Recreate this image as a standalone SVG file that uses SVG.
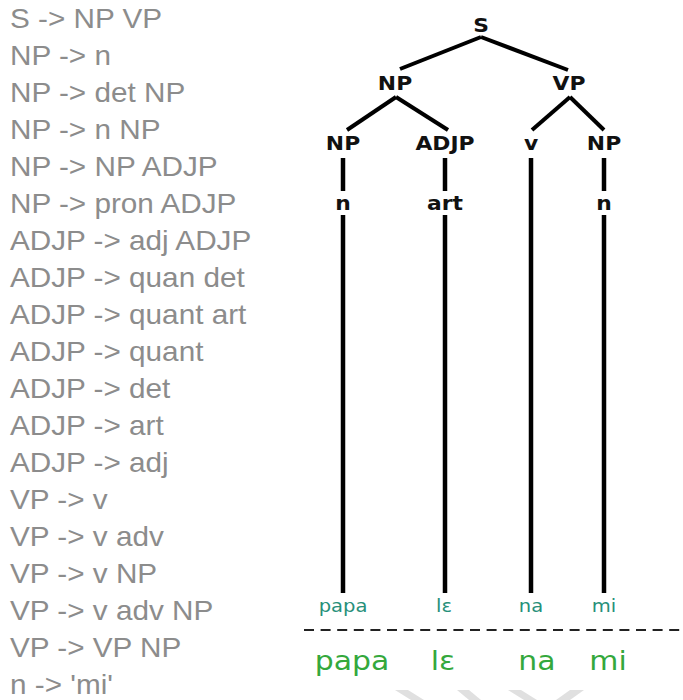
<svg xmlns="http://www.w3.org/2000/svg" width="683" height="700" viewBox="0 0 683 700">
  <style>
    .rule { font-family: "Liberation Sans", Arial, sans-serif; font-size: 27px; fill: #8c8c8c; }
    .lbl { font-family: "DejaVu Sans", Verdana, sans-serif; font-weight: bold; font-size: 19px; fill: #111; text-anchor: middle; }
    .leaf { font-family: "DejaVu Sans", Verdana, sans-serif; font-size: 17px; fill: #27907a; text-anchor: middle; }
    .word { font-family: "DejaVu Sans", Verdana, sans-serif; font-size: 26px; fill: #34a83c; text-anchor: middle; }
    .edge { stroke: #000; stroke-width: 4; fill: none; stroke-linecap: butt; }
    .stem { stroke: #000; stroke-width: 4.5; fill: none; }
    .mark { fill: #e0e0e0; }
  </style>
  <rect width="683" height="700" fill="#fff"/>

  <!-- grammar rules -->
  <g id="rules" transform="translate(10,0) scale(1.1,1)">
    <text class="rule" x="0" y="28.5">S -&gt; NP VP</text>
    <text class="rule" x="0" y="65.5">NP -&gt; n</text>
    <text class="rule" x="0" y="102.5">NP -&gt; det NP</text>
    <text class="rule" x="0" y="139.5">NP -&gt; n NP</text>
    <text class="rule" x="0" y="176.5">NP -&gt; NP ADJP</text>
    <text class="rule" x="0" y="213.5">NP -&gt; pron ADJP</text>
    <text class="rule" x="0" y="250.5">ADJP -&gt; adj ADJP</text>
    <text class="rule" x="0" y="287.5">ADJP -&gt; quan det</text>
    <text class="rule" x="0" y="324.5">ADJP -&gt; quant art</text>
    <text class="rule" x="0" y="361.5">ADJP -&gt; quant</text>
    <text class="rule" x="0" y="398.5">ADJP -&gt; det</text>
    <text class="rule" x="0" y="435.5">ADJP -&gt; art</text>
    <text class="rule" x="0" y="472.5">ADJP -&gt; adj</text>
    <text class="rule" x="0" y="509.5">VP -&gt; v</text>
    <text class="rule" x="0" y="546.5">VP -&gt; v adv</text>
    <text class="rule" x="0" y="583.5">VP -&gt; v NP</text>
    <text class="rule" x="0" y="620.5">VP -&gt; v adv NP</text>
    <text class="rule" x="0" y="657.5">VP -&gt; VP NP</text>
    <text class="rule" x="0" y="694.5">n -&gt; 'mi'</text>
  </g>

  <!-- tree edges -->
  <g id="connectors">
    <line class="edge" x1="481" y1="37" x2="400" y2="69"/>
    <line class="edge" x1="481" y1="37" x2="568" y2="70"/>
    <line class="edge" x1="396" y1="97" x2="347" y2="130"/>
    <line class="edge" x1="396" y1="97" x2="448" y2="130"/>
    <line class="edge" x1="570" y1="97" x2="532" y2="130"/>
    <line class="edge" x1="570" y1="97" x2="604" y2="130"/>
    <line class="stem" x1="343" y1="158" x2="343" y2="191"/>
    <line class="stem" x1="445" y1="158" x2="445" y2="191"/>
    <line class="stem" x1="604" y1="158" x2="604" y2="191"/>
    <line class="stem" x1="531" y1="158" x2="531" y2="593"/>
    <line class="stem" x1="343" y1="215" x2="343" y2="593"/>
    <line class="stem" x1="445" y1="215" x2="445" y2="593"/>
    <line class="stem" x1="604" y1="215" x2="604" y2="593"/>
  </g>

  <!-- tree nodes -->
  <g id="node-S"><text class="lbl" transform="translate(481,32) scale(1.15,1)">S</text></g>
  <g id="node-NP"><text class="lbl" transform="translate(395,90) scale(1.15,1)">NP</text></g>
  <g id="node-VP"><text class="lbl" transform="translate(569,90) scale(1.15,1)">VP</text></g>
  <g id="node-NP2"><text class="lbl" transform="translate(343,150) scale(1.15,1)">NP</text></g>
  <g id="node-ADJP"><text class="lbl" transform="translate(445,150) scale(1.15,1)">ADJP</text></g>
  <g id="node-v"><text class="lbl" transform="translate(531,150) scale(1.15,1)">v</text></g>
  <g id="node-NP3"><text class="lbl" transform="translate(604,150) scale(1.15,1)">NP</text></g>
  <g id="node-n1"><text class="lbl" transform="translate(343,210) scale(1.15,1)">n</text></g>
  <g id="node-art"><text class="lbl" transform="translate(445,210) scale(1.15,1)">art</text></g>
  <g id="node-n2"><text class="lbl" transform="translate(604,210) scale(1.15,1)">n</text></g>

  <!-- leaves -->
  <g id="leaf-papa"><text class="leaf" transform="translate(343,612) scale(1.15,1)">papa</text></g>
  <g id="leaf-le"><text class="leaf" transform="translate(444,612) scale(1.15,1)">lɛ</text></g>
  <g id="leaf-na"><text class="leaf" transform="translate(531,612) scale(1.15,1)">na</text></g>
  <g id="leaf-mi"><text class="leaf" transform="translate(604,612) scale(1.15,1)">mi</text></g>

  <!-- sentence line -->
  <line x1="304" y1="630" x2="683" y2="630" stroke="#222" stroke-width="2" stroke-dasharray="10 6.6"/>
  <g id="sentence">
    <text class="word" transform="translate(352,670) scale(1.15,1)">papa</text>
    <text class="word" transform="translate(443,670) scale(1.15,1)">lɛ</text>
    <text class="word" transform="translate(537,670) scale(1.15,1)">na</text>
    <text class="word" transform="translate(608,670) scale(1.15,1)">mi</text>
  </g>

  <!-- faint marks along the bottom edge -->
  <g id="marks">
    <polygon class="mark" points="395,690 408,690 424,700 411,700"/>
    <polygon class="mark" points="457,690 469,690 481,700 469,700"/>
    <polygon class="mark" points="508,690 521,690 537,700 524,700"/>
    <polygon class="mark" points="570,690 584,690 570,700 556,700"/>
  </g>
</svg>
